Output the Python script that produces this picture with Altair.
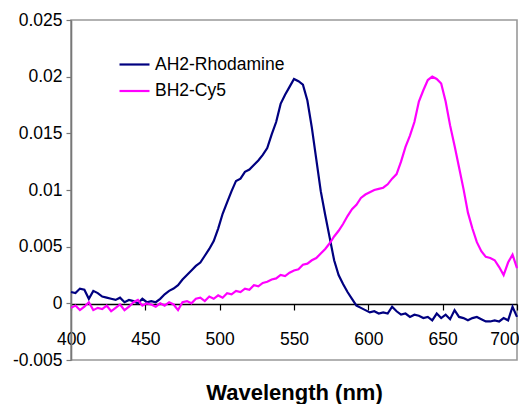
import altair as alt
import pandas as pd

wavelengths = list(range(400, 701, 3))

ah2_rhodamine = [
    0.0010, 0.0009, 0.0013, 0.0012, 0.0004, 0.0011, 0.0009, 0.0006, 0.0005, 0.0004,
    0.0003, 0.0005, 0.0001, 0.0003, 0.0002, 0.0000, 0.0004, 0.0001, 0.0002, 0.0001,
    0.0004, 0.0008, 0.0011, 0.0013, 0.0016, 0.0021, 0.0025, 0.0029, 0.0033, 0.0036,
    0.0042, 0.0048, 0.0055, 0.0066, 0.0079, 0.0089, 0.0099, 0.0108, 0.0110, 0.0116,
    0.0118, 0.0122, 0.0126, 0.0131, 0.0137, 0.0149, 0.0160, 0.0176, 0.0184, 0.0191,
    0.0198, 0.0196, 0.0193, 0.0179, 0.0155, 0.0127, 0.0099, 0.0078, 0.0058, 0.0038,
    0.0025, 0.0017, 0.0010, 0.0004, -0.0002, -0.0004, -0.0006, -0.0008, -0.0007, -0.0009,
    -0.0008, -0.0009, -0.0003, -0.0007, -0.0010, -0.0009, -0.0012, -0.0010, -0.0011, -0.0013,
    -0.0012, -0.0015, -0.0009, -0.0013, -0.0010, -0.0014, -0.0006, -0.0012, -0.0013, -0.0015,
    -0.0013, -0.0012, -0.0014, -0.0016, -0.0016, -0.0015, -0.0016, -0.0013, -0.0015, -0.0003,
    -0.0012,
]

bh2_cy5 = [
    -0.0004, -0.0002, -0.0006, -0.0003, 0.0001, -0.0006, -0.0004, -0.0005, -0.0002, -0.0007,
    -0.0004, -0.0001, -0.0006, -0.0003, 0.0001, 0.0003, -0.0002, 0.0000, -0.0001, -0.0003,
    0.0000, -0.0002, 0.0001, -0.0001, -0.0006, 0.0001, 0.0002, 0.0000, 0.0004, 0.0005,
    0.0002, 0.0006, 0.0004, 0.0007, 0.0005, 0.0009, 0.0008, 0.0011, 0.0010, 0.0013,
    0.0012, 0.0016, 0.0015, 0.0018, 0.0019, 0.0021, 0.0022, 0.0025, 0.0024, 0.0027,
    0.0029, 0.0030, 0.0034, 0.0035, 0.0038, 0.0040, 0.0044, 0.0048, 0.0053, 0.0059,
    0.0064, 0.0070, 0.0077, 0.0083, 0.0087, 0.0093, 0.0096, 0.0098, 0.0100, 0.0101,
    0.0102, 0.0105, 0.0110, 0.0114, 0.0125, 0.0138, 0.0148, 0.0160, 0.0178, 0.0188,
    0.0197, 0.0200, 0.0198, 0.0194, 0.0178, 0.0157, 0.0139, 0.0120, 0.0101, 0.0080,
    0.0066, 0.0054, 0.0046, 0.0041, 0.0040, 0.0038, 0.0032, 0.0025, 0.0036, 0.0043,
    0.0031,
]

series_names = ["AH2-Rhodamine", "BH2-Cy5"]
series_colors = ["#000080", "#FF00FF"]
x_ticks = [400, 450, 500, 550, 600, 650, 700]
y_ticks = [-0.005, 0.0, 0.005, 0.01, 0.015, 0.02, 0.025]

rows = []
for w, v in zip(wavelengths, ah2_rhodamine):
    rows.append({"wavelength": w, "value": v, "series": series_names[0]})
for w, v in zip(wavelengths, bh2_cy5):
    rows.append({"wavelength": w, "value": v, "series": series_names[1]})
df = pd.DataFrame(rows)

FONT = "Liberation Sans"

chart = (
    alt.Chart(df)
    .mark_line(strokeWidth=2.2)
    .encode(
        x=alt.X(
            "wavelength:Q",
            scale=alt.Scale(domain=[400, 700], nice=False, zero=False),
            axis=alt.Axis(
                values=x_ticks,
                format="d",
                title="Wavelength (nm)",
                titleFont=FONT,
                titleFontSize=22,
                titleFontWeight="bold",
                titleColor="black",
                titleY=95,
                titleBaseline="alphabetic",
                labelFont=FONT,
                labelFontSize=17.5,
                labelColor="black",
                labelPadding=20,
                labelFlush=False,
                labelAlign={"expr": "datum.value == 700 ? 'right' : 'center'"},
                labelOffset={"expr": "datum.value == 700 ? 2 : 0"},
                domainColor="black",
                domainWidth=1.6,
                tickColor="black",
                tickSize=6,
                tickWidth=1.2,
                offset=-56,
                grid=False,
            ),
        ),
        y=alt.Y(
            "value:Q",
            scale=alt.Scale(domain=[-0.005, 0.025], nice=False, zero=False),
            axis=alt.Axis(
                values=y_ticks,
                labelExpr="replace(format(datum.value, '.3~f'), '\u2212', '-')",
                title=None,
                labelFont=FONT,
                labelFontSize=17.5,
                labelColor="black",
                labelPadding=4,
                domainColor="#777777",
                domainWidth=1.6,
                tickColor="#777777",
                tickSize=5,
                tickWidth=1.2,
                grid=False,
            ),
        ),
        color=alt.Color(
            "series:N",
            scale=alt.Scale(domain=series_names, range=series_colors),
            legend=alt.Legend(
                title=None,
                orient="none",
                legendX=47,
                legendY=28,
                symbolType="stroke",
                symbolSize=900,
                symbolStrokeWidth=2.2,
                labelFont=FONT,
                labelFontSize=17.5,
                labelColor="black",
                labelOffset=4,
                rowPadding=1.5,
            ),
        ),
    )
    .properties(
        width=446,
        height=340,
        autosize=alt.AutoSizeParams(type="none"),
        padding={"left": 63, "top": 12, "right": 2, "bottom": 44},
    )
    .configure_view(stroke="#999999", strokeWidth=1.6)
)

chart.save("out.html", embed_options={"renderer": "svg", "actions": False})
